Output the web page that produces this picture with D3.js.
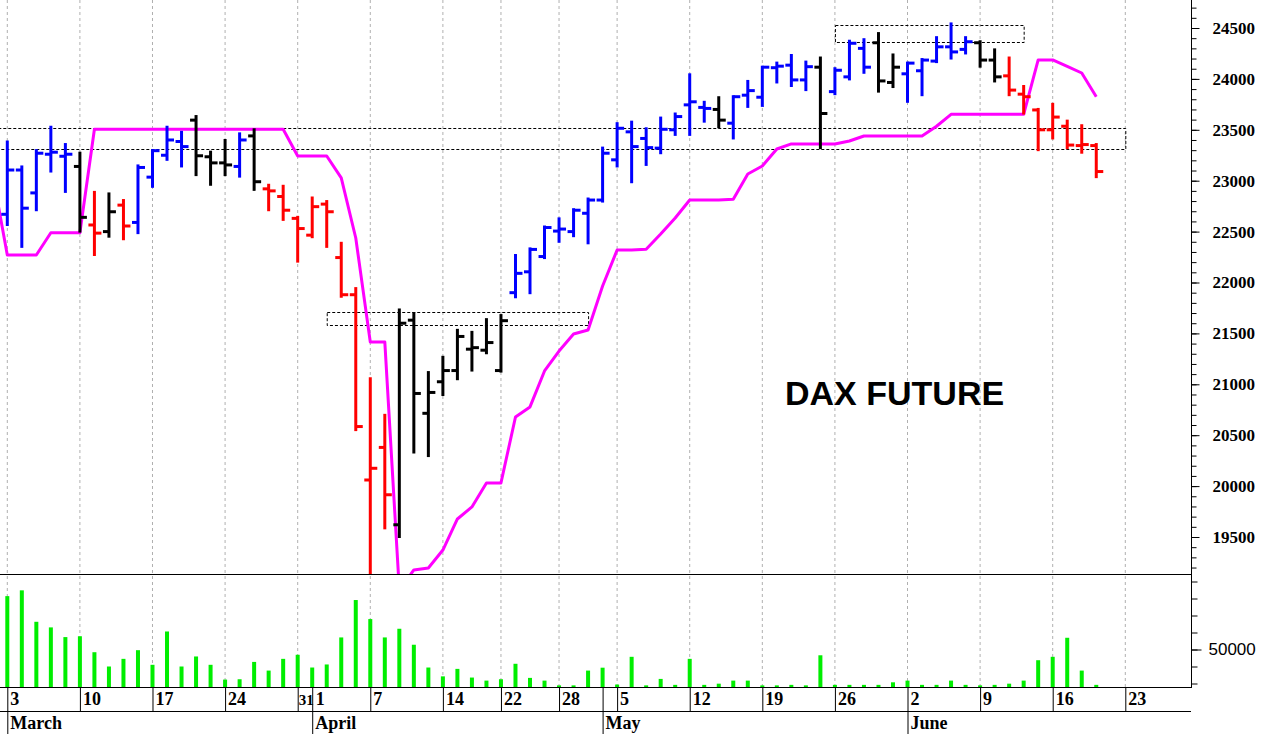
<!DOCTYPE html>
<html><head><meta charset="utf-8">
<script src="https://cdn.jsdelivr.net/npm/d3@7"></script>
<style>body{margin:0;background:#fff}svg{display:block}</style>
</head><body><svg id="c" width="1262" height="734"></svg>
<script>
// ---------- DATA ----------
const tradingDays = ["02-28",
 "03-03","03-04","03-05","03-06","03-07","03-10","03-11","03-12","03-13","03-14",
 "03-17","03-18","03-19","03-20","03-21","03-24","03-25","03-26","03-27","03-28","03-31",
 "04-01","04-02","04-03","04-04","04-07","04-08","04-09","04-10","04-11",
 "04-14","04-15","04-16","04-17","04-22","04-23","04-24","04-25","04-28","04-29","04-30",
 "05-02","05-05","05-06","05-07","05-08","05-09","05-12","05-13","05-14","05-15","05-16",
 "05-19","05-20","05-21","05-22","05-23","05-26","05-27","05-28","05-29","05-30",
 "06-02","06-03","06-04","06-05","06-06","06-09","06-10","06-11","06-12","06-13",
 "06-16","06-17","06-18","06-19","06-20","06-23"];
const barDates = tradingDays.slice(1, 77);

const openP = [22670,23105,22880,23260,23240,23140,22565,22500,22760,22590,
 23035,23250,23385,23595,23235,23175,23140,23440,22920,22845,
 22630,22465,22770,22245,21880,20060,20380,19620,21630,20715,
 21025,21135,21345,21335,21135,21900,22105,22255,22505,22500,
 22680,22810,23205,23480,23415,23320,23500,23745,23720,23700,
 23565,23840,23820,24110,24135,23990,24115,23875,24020,24300,
 24355,23965,24050,24080,24175,24315,24290,24355,24185,24030,
 23850,23695,23500,23535,23345,23345];
const highP = [23385,23140,23300,23530,23360,23275,22890,22875,22810,23150,
 23300,23530,23480,23635,23285,23400,23465,23505,22960,22950,
 22645,22835,22800,22390,21945,21060,20700,21735,21700,21120,
 21270,21535,21515,21640,21680,22270,22335,22550,22630,22720,
 22825,23325,23565,23580,23515,23620,23660,24045,23775,23820,
 23830,23980,24120,24160,24235,24170,24210,24105,24375,24390,
 24450,24240,24160,24195,24410,24545,24410,24370,24290,24210,
 23930,23705,23755,23590,23545,23360];
const lowP = [22565,22350,22710,23090,22890,22500,22270,22450,22425,22485,
 22940,23205,23140,23055,22960,23055,23040,22910,22710,22615,
 22205,22445,22350,21860,20550,18500,19585,19500,20330,20295,
 20895,21050,21135,21305,21125,21855,21895,22240,22400,22455,
 22385,22795,23140,22985,23155,23270,23450,23450,23580,23525,
 23415,23725,23735,23965,23930,23890,23320,23850,23995,24060,
 23875,23920,23775,23840,24165,24200,24250,24120,23975,23840,
 23660,23300,23415,23320,23275,23035];
const closeP = [23105,22730,23270,23280,23260,22640,22485,22695,22555,23130,
 23295,23400,23335,23245,23175,23155,23400,22990,22900,22710,
 22530,22745,22695,21880,20585,20175,19915,21600,20910,20920,
 21135,21470,21360,21410,21625,22090,22325,22540,22525,22710,
 22810,23270,23515,23335,23325,23505,23630,23775,23710,23595,
 23825,23885,24115,24125,23990,24120,23660,24085,24350,24115,
 23980,24115,24155,24185,24315,24265,24365,24185,24020,23890,
 23825,23500,23625,23350,23355,23090];
// trend colour code per bar: B = up (blue), K = neutral (black), R = down (red)
const trend = ["B","B","B","B","B","K","R","K","R","B",
 "B","B","B","K","K","K","B","K","R","R",
 "R","R","R","R","R","R","R","K","K","K",
 "K","K","K","K","K","B","B","B","B","B",
 "B","B","B","B","B","B","B","B","B","K",
 "B","B","B","B","B","B","K","B","B","B",
 "K","K","B","B","B","B","B","K","K","R",
 "R","R","R","R","R","R"];
const volume = [81400,84800,66300,63000,57300,57800,48400,40000,44500,49600,
 41000,60600,40000,45900,41000,32300,32500,42700,37600,44500,
 46900,39400,41200,57100,79100,67900,57100,62200,52800,39400,
 34200,38600,33500,31700,32500,41600,33300,31700,28900,28900,
 37600,39300,29400,45700,28900,32700,29200,44500,29200,29900,
 31700,31700,28900,28900,29200,28900,46600,29200,29200,29200,
 29200,30700,31700,29200,29200,31700,29200,28900,29200,29900,
 31700,43700,45700,56900,37600,29200];
// magenta stop line, one value per trading day from 02-28 to 06-19
const stopLine = [23056,
 22270,22270,22270,22489,22489,22489,23505,23505,23505,23505,
 23505,23505,23505,23505,23505,23505,23505,23505,23505,23505,
 23243,23243,23243,23027,22437,21416,21416,18980,19176,19196,
 19372,19677,19795,20031,20031,20679,20778,21131,21327,21494,
 21534,21966,22319,22319,22326,22476,22634,22810,22810,22810,
 22817,23066,23144,23311,23361,23361,23361,23361,23390,23439,
 23439,23439,23439,23439,23535,23652,23652,23652,23652,23652,
 23652,24186,24186,24124,24058,23825];
const boxStart = ["02-28","05-26","04-02"];
const boxEnd   = ["06-23","06-12","04-30"];
const boxLow   = [23310,24365,21590];
const boxHigh  = [23515,24530,21715];
const priceMajorTicks = [19500,20000,20500,21000,21500,22000,22500,23000,23500,24000,24500];
const volumeTicks = [30000,40000,50000,60000,70000,80000,90000];
const volumeLabelTicks = [50000];
const gridDates = ["03-03","03-10","03-17","03-24","03-31","04-07","04-14","04-22","04-28",
 "05-05","05-12","05-19","05-26","06-02","06-09","06-16","06-23"];
const dayLabelDates = ["03-03","03-10","03-17","03-24","03-31","04-01","04-07","04-14","04-22","04-28",
 "05-05","05-12","05-19","05-26","06-02","06-09","06-16","06-23"];
const dayLabels = ["3","10","17","24","31","1","7","14","22","28","5","12","19","26","2","9","16","23"];
const daySeparatorDates = dayLabelDates.concat(["05-02"]);
const monthDates = ["03-03","04-01","05-02","06-02"];
const monthNames = ["March","April","May","June"];
const title = "DAX FUTURE";

// ---------- LAYOUT ----------
const W = 1262, H = 734;
const axisX = 1191, priceBottom = 574, volBottom = 687, dayBottom = 711.5;
const svg = d3.select("#c");
const x = d3.scalePoint().domain(tradingDays).range([-7.22, 1125.3]);
const y = d3.scaleLinear().domain([19500, 24500]).range([537, 28]);
const yv = d3.scaleLinear().domain([30000, 90000]).range([683.5, 581.5]);
const colorOf = {B: "#0000ff", K: "#000000", R: "#ff0000"};

svg.append("defs").append("clipPath").attr("id", "pc")
  .append("rect").attr("x", 0).attr("y", 0).attr("width", axisX).attr("height", priceBottom);

// vertical dashed grid
svg.append("g").selectAll("line").data(gridDates).join("line")
  .attr("x1", d => x(d)).attr("x2", d => x(d)).attr("y1", 0).attr("y2", volBottom)
  .attr("stroke", "#b0b0b0").attr("stroke-width", 1).attr("stroke-dasharray", "3,3");

const pg = svg.append("g").attr("clip-path", "url(#pc)");

// dotted boxes
pg.append("g").selectAll("rect").data(boxStart.map((s, i) => i)).join("rect")
  .attr("x", i => x(boxStart[i]) + 0.5).attr("width", i => x(boxEnd[i]) - x(boxStart[i]))
  .attr("y", i => Math.round(y(boxHigh[i])) + 0.5).attr("height", i => Math.round(y(boxLow[i]) - y(boxHigh[i])))
  .attr("fill", "none").attr("stroke", "#000").attr("stroke-width", 1).attr("stroke-dasharray", "3,2");

// magenta line
pg.append("path").datum(stopLine)
  .attr("d", d3.line().x((d, i) => x(tradingDays[i])).y(d => y(d)))
  .attr("fill", "none").attr("stroke", "#ff00ff").attr("stroke-width", 3).attr("stroke-linejoin", "round");

// OHLC bars
const bars = pg.append("g").selectAll("g").data(barDates.map((d, i) => i)).join("g")
  .attr("stroke", i => colorOf[trend[i]]).attr("stroke-width", 3);
bars.append("line").attr("x1", i => x(barDates[i])).attr("x2", i => x(barDates[i]))
  .attr("y1", i => y(highP[i]) - 1).attr("y2", i => y(lowP[i]) + 1);
bars.append("line").attr("x1", i => x(barDates[i]) - 6).attr("x2", i => x(barDates[i]))
  .attr("y1", i => y(openP[i])).attr("y2", i => y(openP[i]));
bars.append("line").attr("x1", i => x(barDates[i])).attr("x2", i => x(barDates[i]) + 7)
  .attr("y1", i => y(closeP[i])).attr("y2", i => y(closeP[i]));

// volume bars
svg.append("g").selectAll("rect").data(volume).join("rect")
  .attr("x", (d, i) => x(barDates[i]) - 2).attr("width", 4)
  .attr("y", d => yv(d)).attr("height", d => Math.max(1, volBottom - yv(d)))
  .attr("fill", "#00ee00");

// frame lines
const frame = svg.append("g").attr("stroke", "#000").attr("stroke-width", 1);
frame.append("line").attr("x1", 0).attr("x2", axisX).attr("y1", priceBottom + 0.5).attr("y2", priceBottom + 0.5);
frame.append("line").attr("x1", 0).attr("x2", axisX).attr("y1", volBottom + 0.5).attr("y2", volBottom + 0.5);
frame.append("line").attr("x1", 0).attr("x2", axisX).attr("y1", dayBottom).attr("y2", dayBottom);
frame.append("line").attr("x1", axisX + 0.5).attr("x2", axisX + 0.5).attr("y1", 0).attr("y2", volBottom + 1);

// right price axis: minor + major ticks
const minorTicks = d3.range(19200, 24800, 100);
const gMin = svg.append("g").attr("transform", `translate(${axisX + 0.5},0)`)
  .call(d3.axisRight(y).tickValues(minorTicks).tickSize(5).tickFormat(""));
gMin.select(".domain").remove();
const gMaj = svg.append("g").attr("transform", `translate(${axisX + 0.5},0)`)
  .call(d3.axisRight(y).tickValues(priceMajorTicks).tickSize(8).tickPadding(13).tickFormat(d3.format("d")));
gMaj.select(".domain").remove();
gMaj.selectAll("text").attr("font-family", "'Liberation Serif', 'Times New Roman', serif")
  .attr("font-weight", "bold").attr("font-size", 17).attr("fill", "#000");

// volume axis
const gv = svg.append("g").attr("transform", `translate(${axisX + 0.5},0)`)
  .call(d3.axisRight(yv).tickValues(volumeTicks).tickSize(6).tickFormat(""));
gv.select(".domain").remove();
const gv2 = svg.append("g").attr("transform", `translate(${axisX + 0.5},0)`)
  .call(d3.axisRight(yv).tickValues(volumeLabelTicks).tickSize(10).tickPadding(7).tickFormat(d3.format("d")));
gv2.select(".domain").remove();
gv2.selectAll("text").attr("font-family", "'Liberation Sans', Arial, sans-serif")
  .attr("font-size", 17).attr("fill", "#000");

// bottom date axis
const dateAxis = svg.append("g");
dateAxis.selectAll("line.sep").data(daySeparatorDates).join("line")
  .attr("x1", d => x(d) + 0.5).attr("x2", d => x(d) + 0.5).attr("y1", volBottom).attr("y2", dayBottom)
  .attr("stroke", "#000").attr("stroke-width", 1);
dateAxis.selectAll("line.msep").data(monthDates).join("line")
  .attr("x1", d => x(d) + 0.5).attr("x2", d => x(d) + 0.5).attr("y1", dayBottom).attr("y2", H)
  .attr("stroke", "#000").attr("stroke-width", 1);
// "31" must fit in the one-day gap before the April separator, so it is set a bit smaller
dateAxis.selectAll("text.day").data(dayLabelDates).join("text")
  .attr("x", d => x(d) + (d === "03-31" ? 1 : d === "04-01" ? 3.5 : 3)).attr("y", 705)
  .text((d, i) => dayLabels[i])
  .attr("font-family", "'Liberation Serif', 'Times New Roman', serif").attr("font-weight", "bold")
  .attr("font-size", d => d === "03-31" ? 15 : 18).attr("fill", "#000");
dateAxis.selectAll("text.month").data(monthDates).join("text")
  .attr("x", d => x(d) + 3).attr("y", 729).text((d, i) => monthNames[i])
  .attr("font-family", "'Liberation Serif', 'Times New Roman', serif").attr("font-weight", "bold")
  .attr("font-size", 18).attr("fill", "#000");

// title
svg.append("text").attr("x", 785).attr("y", 405).text(title)
  .attr("font-family", "'Liberation Sans', Arial, sans-serif").attr("font-weight", "bold")
  .attr("font-size", 34).attr("fill", "#000");
</script></body></html>
